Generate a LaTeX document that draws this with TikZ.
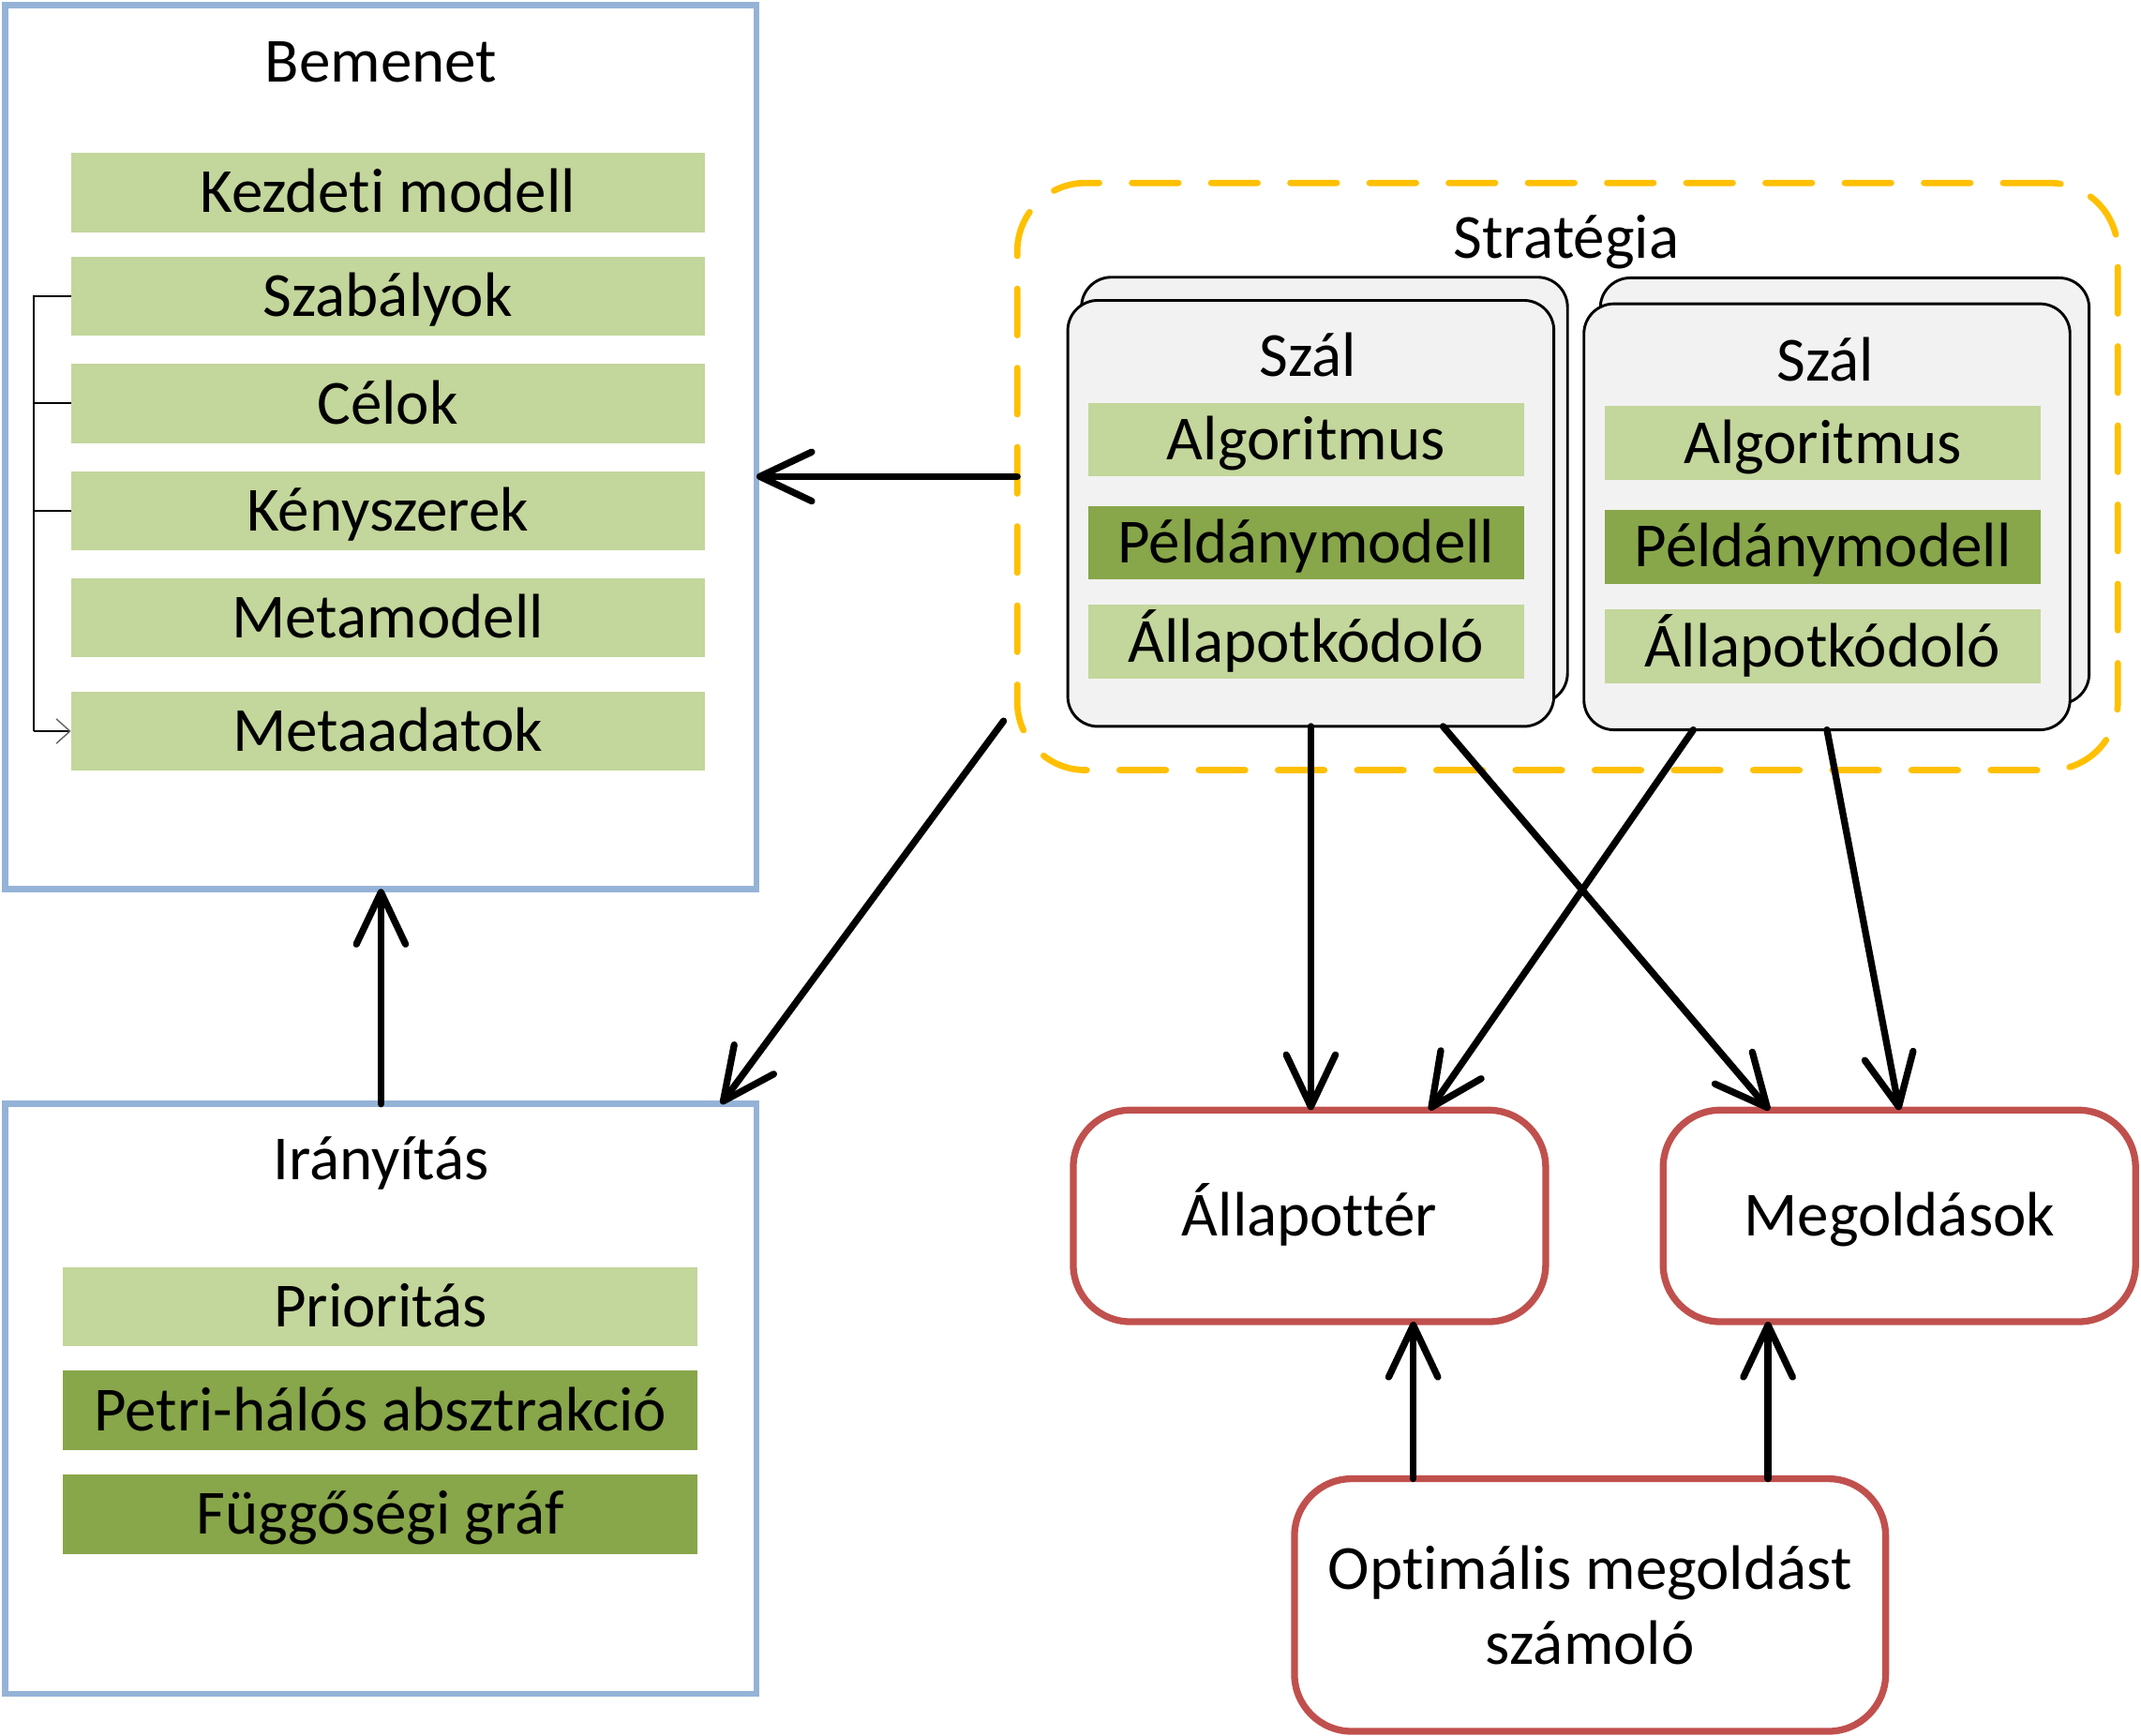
\documentclass[tikz,border=0pt]{standalone}
\usepackage{fontspec}
\setmainfont[Ligatures=NoCommon]{Carlito}
\usetikzlibrary{arrows.meta,calc}
\definecolor{lgreen}{HTML}{C3D69B}
\definecolor{dgreen}{HTML}{88A64A}
\definecolor{pblue}{HTML}{95B3D7}
\definecolor{pred}{HTML}{C0504D}
\definecolor{porange}{HTML}{FFC000}
\definecolor{cardgray}{HTML}{F2F2F2}
\begin{document}
\begin{tikzpicture}[x=0.5pt,y=-0.5pt,
  every node/.style={inner sep=0pt, outer sep=0pt},
  txt/.style={font=\fontsize{23}{27.5}\selectfont, text height=18pt, text depth=3.2pt},
  panel/.style={draw=pblue, line width=2.3pt},
  gbar/.style={txt, fill=lgreen, minimum width=232pt, minimum height=29pt},
  dbar/.style={gbar, fill=dgreen},
  cbar/.style={txt, fill=lgreen, minimum width=159.5pt, minimum height=27pt},
  cdbar/.style={cbar, fill=dgreen},
  card/.style={draw=black, line width=1pt, fill=cardgray, rounded corners=11pt, minimum width=178pt, minimum height=156pt},
  redbox/.style={txt, draw=pred, line width=2.5pt, fill=white, rounded corners=21pt},
  arr/.style={line width=2.5pt, line cap=round, -{Straight Barb[length=19pt, width=18pt, line cap=round, line join=round]}},
  brk/.style={line width=0.7pt, black}
]
\useasboundingbox (0,0) rectangle (1568,1271);

% ---- Bemenet panel ----
\node[panel, minimum width=275pt, minimum height=323.5pt] (bem) at (279,327.5) {};
\node[txt] (bemt) at (279,45) {Bemenet};
\node[gbar] (kezd) at (284,141) {Kezdeti modell};
\node[gbar] (szab) at (284,217) {Szabályok};
\node[gbar] (celok) at (284,295.5) {Célok};
\node[gbar] (keny) at (284,374) {Kényszerek};
\node[gbar] (metam) at (284,452.5) {Metamodell};
\node[gbar] (metaa) at (284,535.5) {Metaadatok};

\coordinate (bx) at (25,0);
\draw[brk] (szab.west) -- (szab.west -| bx) -- (metaa.west -| bx);
\draw[brk] (celok.west) -- (celok.west -| bx);
\draw[brk] (keny.west) -- (keny.west -| bx);
\draw[brk, -{Straight Barb[length=5pt, width=9pt, color=black!60, line width=0.5pt]}] (metaa.west -| bx) -- (metaa.west);

% ---- Iranyitas panel ----
\node[panel, minimum width=275pt, minimum height=216pt] (iran) at (279,1024.5) {};
\node[txt] (irant) at (279,849) {Irányítás};
\node[gbar, minimum width=232.5pt] (prio) at (278.5,957) {Prioritás};
\node[dbar, minimum width=232.5pt] (petri) at (278.5,1033) {Petri-hálós absztrakció};
\node[dbar, minimum width=232.5pt] (fugg) at (278.5,1109) {Függőségi gráf};

% ---- Strategia ----
\node[draw=porange, line width=2.3pt, dash pattern=on 17pt off 12pt, line cap=round,
      rounded corners=25pt, minimum width=403pt, minimum height=215pt] (strat) at (1148,349) {};
\node[txt] (stratt) at (1147,174) {Stratégia};

% thread 1
\node[card] (th1b) at (970,359) {};
\node[card] (th1) at (960,376) {};
\node[txt] (sz1) at (958,261) {Szál};
\node[cbar] (alg1) at (956.5,322) {Algoritmus};
\node[cdbar] (pel1) at (956.5,397.5) {Példánymodell};
\node[cbar] (all1) at (956.5,470) {Állapotkódoló};

% thread 2
\node[card, minimum width=179pt] (th2b) at (1351,359.5) {};
\node[card] (th2) at (1338,378.5) {};
\node[txt] (sz2) at (1337,264) {Szál};
\node[cbar] (alg2) at (1335,324.5) {Algoritmus};
\node[cdbar] (pel2) at (1335,400.5) {Példánymodell};
\node[cbar] (all2) at (1335,473.5) {Állapotkódoló};

% ---- result boxes ----
\node[redbox, minimum width=173pt, minimum height=77.5pt] (st) at (959,890.5) {Állapottér};
\node[redbox, minimum width=173pt, minimum height=77.5pt] (mo) at (1391,890.5) {Megoldások};
\node[draw=pred, line width=2.5pt, fill=white, rounded corners=21pt, align=center,
      font=\fontsize{23}{27.5}\selectfont, minimum width=216.5pt, minimum height=92.5pt] (opt) at (1164.5,1175.5)
      {Optimális megoldást\\számoló};

% ---- arrows ----
\draw[arr] (strat.west) -- (strat.west -| bem.east);
\draw[arr] (iran.north) -- (bem.south);
\coordinate (s1) at ($(strat.south west)+(-10,-36)$);
\draw[arr] (s1) -- ($(iran.north west)!0.953!(iran.north east)$);
\draw[arr] (th1.south) -- (th1.south |- st.north);
\draw[arr] ($(th1.south west)!0.772!(th1.south east)$) -- ($(mo.north west)!0.225!(mo.north east)$);
\draw[arr] ($(th2.south west)!0.225!(th2.south east)$) -- ($(st.north west)!0.754!(st.north east)$);
\draw[arr] (th2.south) -- (mo.north);
\coordinate (o1) at ($(opt.north west)!0.201!(opt.north east)$);
\draw[arr] (o1) -- (o1 |- st.south);
\coordinate (o2) at ($(opt.north west)!0.801!(opt.north east)$);
\draw[arr] (o2) -- (o2 |- mo.south);
\end{tikzpicture}
\end{document}
